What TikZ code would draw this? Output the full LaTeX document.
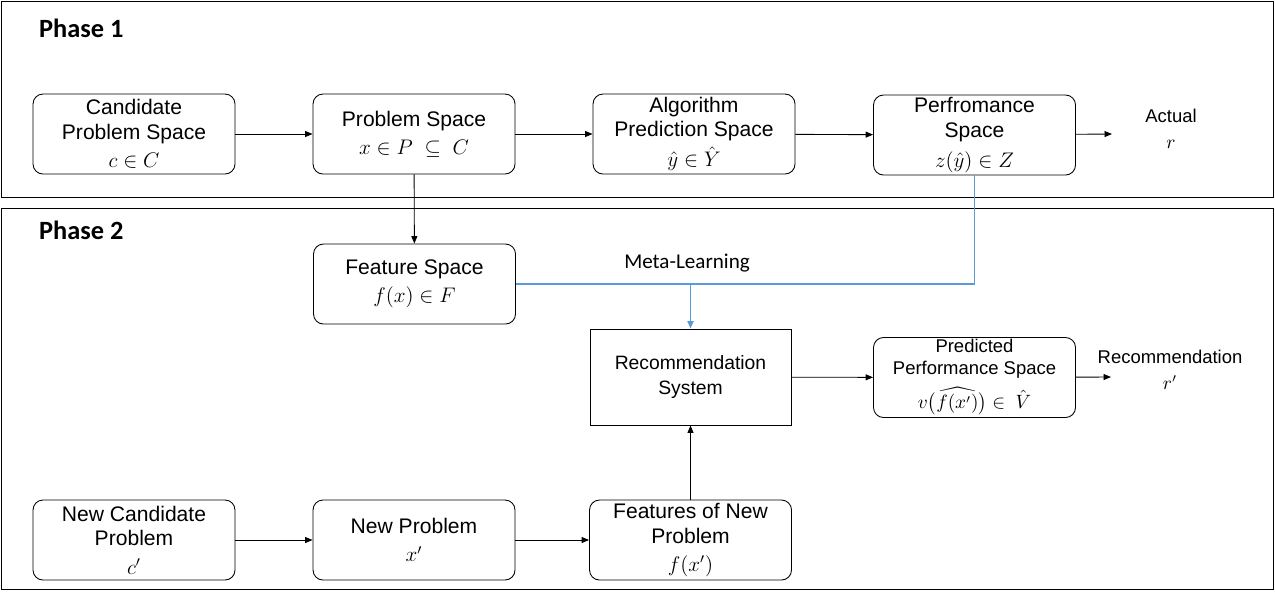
\documentclass[tikz,border=0pt]{standalone}
\usepackage{amsmath}
\usepackage{amssymb}
\usepackage{fontspec}
\setmainfont{Liberation Sans}
\newfontfamily\calibrifont{Carlito}
\usepackage{tikz}
\usetikzlibrary{arrows.meta}
\usepackage{xcolor}
\definecolor{metablue}{RGB}{91,155,213}

\begin{document}
\begin{tikzpicture}[
        spacebox/.style={draw, rounded corners=2mm, line width=0.5pt, minimum width=4.04cm, minimum height=1.6cm, inner ysep=1pt, align=center, font=\fontsize{12}{14}\selectfont},
        sysbox/.style={draw, line width=0.5pt, minimum width=4.02cm, minimum height=1.92cm, align=center, font=\fontsize{11}{14.2}\selectfont},
        outlabel/.style={align=center, font=\fontsize{10.5}{14.5}\selectfont},
        phaselabel/.style={anchor=west, font=\calibrifont\bfseries\fontsize{15}{18}\selectfont},
        flow/.style={-{Triangle[length=1.5mm,width=1.2mm]}, line width=0.5pt},
        metaline/.style={draw=metablue, line width=1.1pt}
    ]
        \useasboundingbox (0,0) rectangle (25.5,-11.82);

        % phase frames
        \draw[line width=0.5pt] (0.02,-0.02) rectangle (25.46,-3.94);
        \draw[line width=0.5pt] (0.02,-4.16) rectangle (25.46,-11.78);
        \node[phaselabel] (ph1) at (0.66,-0.56) {Phase 1};
        \node[phaselabel] (ph2) at (0.66,-4.6) {Phase 2};

        % phase 1
        \node[spacebox] (cand) at (2.68,-2.68) {Candidate\\Problem Space\\[2pt]$c\in C$};
        \node[spacebox] (prob) at (8.28,-2.68) {Problem Space\\[2pt]$x\in P\ \subseteq\ C$};
        \node[spacebox] (algo) at (13.88,-2.68) {Algorithm\\Prediction Space\\[3pt]$\hat{y}\in\hat{Y}$};
        \node[spacebox] (perf) at (19.49,-2.70) {Perfromance\\Space\\[3pt]$z(\hat{y})\in Z$};
        \coordinate (actend) at (22.24,-2.68);
        \node[outlabel] (actual) at (23.42,-2.58) {Actual\\$r$};

        \draw[flow] (cand) -- (prob);
        \draw[flow] (prob) -- (algo);
        \draw[flow] (algo) -- (perf);
        \draw[flow] (perf) -- (actend);

        % phase 2
        \node[spacebox] (feat) at (8.29,-5.68) {Feature Space\\[2pt]$f(x)\in F$};
        \node[sysbox] (recsys) at (13.81,-7.54) {Recommendation\\System};
        \node[spacebox, font=\fontsize{10.5}{12.5}\selectfont] (predperf) at (19.49,-7.55) {Predicted\\Performance Space\\[4pt]$v\bigl(\widehat{f(x')}\bigr)\in\ \hat{V}$};
        \coordinate (recend) at (22.22,-7.54);
        \node[outlabel] (recom) at (23.4,-7.4) {Recommendation\\$r'$};

        \node[spacebox] (newcand) at (2.68,-10.8) {New Candidate\\Problem\\[2pt]$c'$};
        \node[spacebox] (newprob) at (8.28,-10.8) {New Problem\\[2pt]$x'$};
        \node[spacebox] (newfeat) at (13.81,-10.8) {Features of New\\Problem\\[2pt]$f(x')$};

        \draw[flow] (prob) -- (feat);
        \draw[flow] (recsys) -- (predperf);
        \draw[flow] (predperf) -- (recend);
        \draw[flow] (newcand) -- (newprob);
        \draw[flow] (newprob) -- (newfeat);
        \draw[flow] (newfeat) -- (recsys);

        % meta-learning
        \coordinate (metajoin) at (recsys.north |- feat.east);
        \draw[metaline] (perf.south) -- (perf.south |- feat.east) -- (feat.east);
        \draw[metaline, flow, line width=1.1pt] (metajoin) -- (recsys.north);
        \node[font=\calibrifont\fontsize{12}{14}\selectfont] (metalbl) at (13.74,-5.26) {Meta-Learning};
    \end{tikzpicture}
\end{document}
